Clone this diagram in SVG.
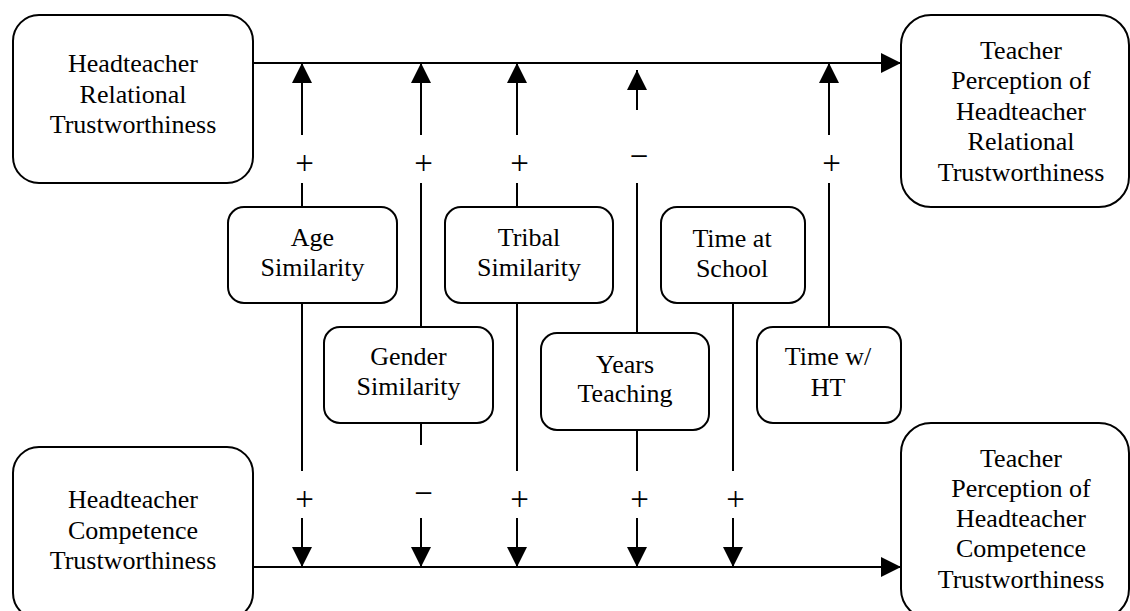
<svg xmlns="http://www.w3.org/2000/svg" width="1130" height="611" viewBox="0 0 1130 611">
<defs>
<style>
.box{fill:#fff;stroke:#000;stroke-width:2}
.lbl{font-family:"Liberation Serif","Times New Roman",serif;font-size:26px;fill:#000;text-anchor:middle}
.sign{font-family:"Liberation Serif","Times New Roman",serif;font-size:33px;fill:#000;text-anchor:middle}
.ln{stroke:#000;stroke-width:2;fill:none}
.arr{stroke:#000;stroke-width:2;fill:none;marker-end:url(#ah)}
</style>
<marker id="ah" markerUnits="userSpaceOnUse" markerWidth="20" markerHeight="20" refX="20" refY="10" orient="auto">
<path d="M0,0 L20,10 L0,20 z" fill="#000"/>
</marker>
</defs>
<rect width="1130" height="611" fill="#fff"/>

<g id="connectors">
<line class="arr" x1="253" y1="63" x2="901" y2="63"/>
<line class="arr" x1="253" y1="567" x2="901" y2="567"/>
<line class="ln" x1="302" y1="183" x2="302" y2="207"/>
<line class="arr" x1="302" y1="135" x2="302" y2="63"/>
<line class="ln" x1="302" y1="303" x2="302" y2="471"/>
<line class="arr" x1="302" y1="518" x2="302" y2="567"/>
<line class="ln" x1="421" y1="183" x2="421" y2="327"/>
<line class="arr" x1="421" y1="135" x2="421" y2="63"/>
<line class="ln" x1="421" y1="423" x2="421" y2="445"/>
<line class="arr" x1="421" y1="518" x2="421" y2="567"/>
<line class="ln" x1="517" y1="183" x2="517" y2="207"/>
<line class="arr" x1="517" y1="135" x2="517" y2="63"/>
<line class="ln" x1="517" y1="303" x2="517" y2="471"/>
<line class="arr" x1="517" y1="518" x2="517" y2="567"/>
<line class="ln" x1="637" y1="183" x2="637" y2="333"/>
<line class="arr" x1="637" y1="110" x2="637" y2="70"/>
<line class="ln" x1="637" y1="430" x2="637" y2="471"/>
<line class="arr" x1="637" y1="518" x2="637" y2="567"/>
<line class="ln" x1="733" y1="303" x2="733" y2="471"/>
<line class="arr" x1="733" y1="518" x2="733" y2="567"/>
<line class="ln" x1="829" y1="183" x2="829" y2="327"/>
<line class="arr" x1="829" y1="135" x2="829" y2="63"/>
<text class="sign" x="304.5" y="174">+</text>
<text class="sign" x="423.5" y="174">+</text>
<text class="sign" x="519.5" y="174">+</text>
<text class="sign" x="639" y="167">−</text>
<text class="sign" x="831.5" y="174">+</text>
<text class="sign" x="304.5" y="510">+</text>
<text class="sign" x="423.5" y="503.5">−</text>
<text class="sign" x="519.5" y="510">+</text>
<text class="sign" x="639.5" y="510">+</text>
<text class="sign" x="735.5" y="510">+</text>
</g>

<g id="hrt">
<rect class="box" x="13" y="15" width="240" height="168" rx="26"/>
<text class="lbl" x="133" y="72">Headteacher</text>
<text class="lbl" x="133" y="102.5">Relational</text>
<text class="lbl" x="133" y="133">Trustworthiness</text>
</g>

<g id="tphrt">
<rect class="box" x="901" y="15" width="228" height="192" rx="30"/>
<text class="lbl" x="1021" y="58.5">Teacher</text>
<text class="lbl" x="1021" y="89">Perception of</text>
<text class="lbl" x="1021" y="120">Headteacher</text>
<text class="lbl" x="1021" y="150">Relational</text>
<text class="lbl" x="1021" y="181">Trustworthiness</text>
</g>

<g id="hct">
<rect class="box" x="13" y="447" width="240" height="172" rx="26"/>
<text class="lbl" x="133" y="508">Headteacher</text>
<text class="lbl" x="133" y="538.5">Competence</text>
<text class="lbl" x="133" y="569">Trustworthiness</text>
</g>

<g id="tphct">
<rect class="box" x="901" y="423" width="228" height="196" rx="30"/>
<text class="lbl" x="1021" y="466.5">Teacher</text>
<text class="lbl" x="1021" y="497">Perception of</text>
<text class="lbl" x="1021" y="527">Headteacher</text>
<text class="lbl" x="1021" y="557">Competence</text>
<text class="lbl" x="1021" y="588">Trustworthiness</text>
</g>

<g id="age">
<rect class="box" x="228" y="207" width="169" height="96" rx="16"/>
<text class="lbl" x="312.5" y="246">Age</text>
<text class="lbl" x="312.5" y="276">Similarity</text>
</g>

<g id="tribal">
<rect class="box" x="445" y="207" width="168" height="96" rx="16"/>
<text class="lbl" x="529" y="246">Tribal</text>
<text class="lbl" x="529" y="276">Similarity</text>
</g>

<g id="timeschool">
<rect class="box" x="661" y="207" width="144" height="96" rx="16"/>
<text class="lbl" x="732" y="246.5">Time at</text>
<text class="lbl" x="732" y="276.5">School</text>
</g>

<g id="gender">
<rect class="box" x="324" y="327" width="169" height="96" rx="16"/>
<text class="lbl" x="408.5" y="365">Gender</text>
<text class="lbl" x="408.5" y="395">Similarity</text>
</g>

<g id="years">
<rect class="box" x="541" y="333" width="168" height="97" rx="16"/>
<text class="lbl" x="625" y="372.5">Years</text>
<text class="lbl" x="625" y="402">Teaching</text>
</g>

<g id="timeht">
<rect class="box" x="757" y="327" width="144" height="96" rx="16"/>
<text class="lbl" x="828" y="365">Time w/</text>
<text class="lbl" x="828" y="396">HT</text>
</g>
</svg>
